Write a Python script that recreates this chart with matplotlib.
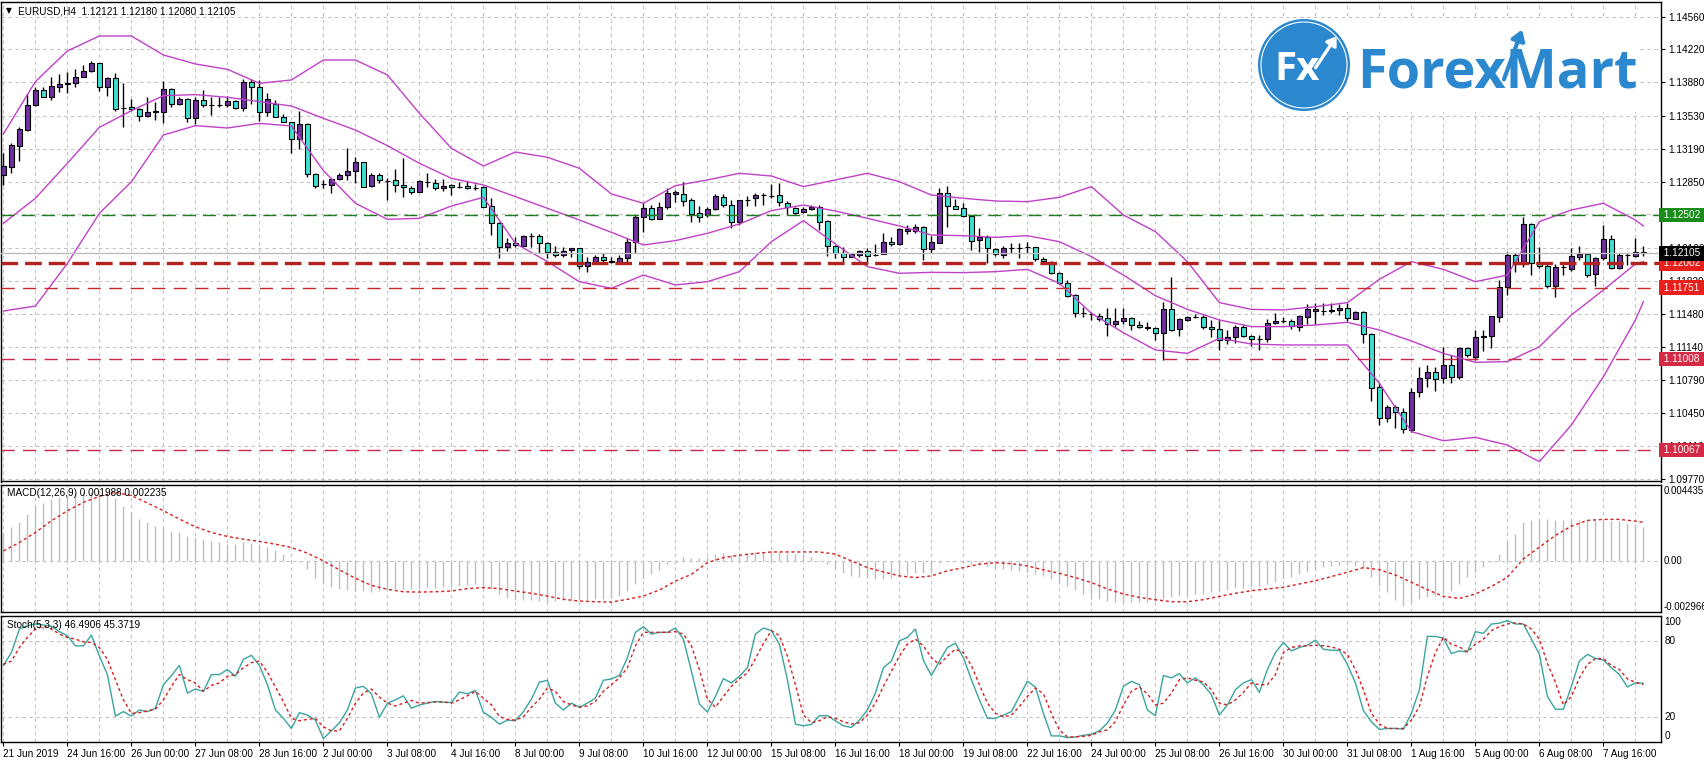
import numpy as np
import matplotlib
matplotlib.use("Agg")
import matplotlib.pyplot as plt
from matplotlib.patches import Circle, Rectangle, FancyArrowPatch
import matplotlib.transforms as mtransforms

plt.rcParams['font.family'] = ['Liberation Sans', 'DejaVu Sans']
plt.rcParams['lines.scale_dashes'] = False

# ---------------- data ----------------
symbol = "EURUSD,H4"
date_labels = ["21 Jun 2019", "24 Jun 16:00", "26 Jun 00:00", "27 Jun 08:00", "28 Jun 16:00",
               "2 Jul 00:00", "3 Jul 08:00", "4 Jul 16:00", "8 Jul 00:00", "9 Jul 08:00",
               "10 Jul 16:00", "12 Jul 00:00", "15 Jul 08:00", "16 Jul 16:00", "18 Jul 00:00",
               "19 Jul 08:00", "22 Jul 16:00", "24 Jul 00:00", "25 Jul 08:00", "26 Jul 16:00",
               "30 Jul 00:00", "31 Jul 08:00", "1 Aug 16:00", "5 Aug 00:00", "6 Aug 08:00",
               "7 Aug 16:00"]
price_ticks = [1.14560, 1.14220, 1.13880, 1.13530, 1.13190, 1.12850, 1.12510, 1.12160,
               1.11820, 1.11480, 1.11140, 1.10790, 1.10450, 1.10110, 1.09770]
hidden_tick = 1.12510          # fully covered by the 1.12502 level box in the original
level_prices = [1.12502, 1.12002, 1.11751, 1.11008, 1.10067]

open_ = [
 1.12919, 1.13005, 1.13223, 1.13385, 1.13645, 1.13800, 1.13731, 1.13835, 1.13859, 1.13869,
 1.13938, 1.13997, 1.14077, 1.13828, 1.13921, 1.13617, 1.13620, 1.13600, 1.13534, 1.13569,
 1.13569, 1.13807, 1.13651, 1.13703, 1.13506, 1.13696, 1.13641, 1.13648, 1.13648, 1.13686,
 1.13610, 1.13887, 1.13828, 1.13569, 1.13651, 1.13517, 1.13465, 1.13288, 1.13444, 1.12926,
 1.12822, 1.12815, 1.12874, 1.12919, 1.12964, 1.13050, 1.12805, 1.12919, 1.12860, 1.12867,
 1.12811, 1.12787, 1.12739, 1.12849, 1.12832, 1.12780, 1.12811, 1.12798, 1.12805, 1.12787,
 1.12791, 1.12601, 1.12424, 1.12168, 1.12210, 1.12182, 1.12286, 1.12289, 1.12210, 1.12123,
 1.12092, 1.12141, 1.12158, 1.11978, 1.12020, 1.12065, 1.12030, 1.12013, 1.12054, 1.12227,
 1.12480, 1.12573, 1.12466, 1.12590, 1.12722, 1.12722, 1.12659, 1.12521, 1.12504, 1.12563,
 1.12694, 1.12604, 1.12431, 1.12659, 1.12677, 1.12715, 1.12701, 1.12708, 1.12632, 1.12573,
 1.12531, 1.12563, 1.12583, 1.12442, 1.12182, 1.12106, 1.12065, 1.12089, 1.12134, 1.12089,
 1.12096, 1.12227, 1.12200, 1.12341, 1.12341, 1.12376, 1.12148, 1.12217, 1.12728, 1.12597,
 1.12573, 1.12490, 1.12244, 1.12279, 1.12151, 1.12092, 1.12165, 1.12165, 1.12172, 1.12172,
 1.12044, 1.12020, 1.11899, 1.11802, 1.11674, 1.11484, 1.11474, 1.11460, 1.11432, 1.11373,
 1.11401, 1.11432, 1.11359, 1.11346, 1.11328, 1.11277, 1.11525, 1.11318, 1.11415, 1.11449,
 1.11449, 1.11339, 1.11318, 1.11207, 1.11235, 1.11346, 1.11252, 1.11214, 1.11214, 1.11380,
 1.11408, 1.11404, 1.11346, 1.11449, 1.11512, 1.11512, 1.11508, 1.11519, 1.11536, 1.11425,
 1.11494, 1.11270, 1.10723, 1.10402, 1.10516, 1.10457, 1.10274, 1.10665, 1.10810, 1.10872,
 1.10810, 1.10945, 1.10827, 1.11121, 1.11028, 1.11235, 1.11249, 1.11449, 1.11754, 1.12089,
 1.11996, 1.12407, 1.12002, 1.11975, 1.11771, 1.11961, 1.11940, 1.12072, 1.12099, 1.11888,
 1.12054, 1.12255, 1.11951, 1.12085, 1.12079, 1.12121]
high = [
 1.13143, 1.13254, 1.13420, 1.13759, 1.13828, 1.13828, 1.13931, 1.13966, 1.13990, 1.14014,
 1.14059, 1.14101, 1.14084, 1.13931, 1.13980, 1.13876, 1.13703, 1.13610, 1.13731, 1.13679,
 1.13893, 1.13821, 1.13731, 1.13721, 1.13731, 1.13800, 1.13731, 1.13724, 1.13741, 1.13696,
 1.13911, 1.13911, 1.13904, 1.13766, 1.13696, 1.13548, 1.13472, 1.13582, 1.13454, 1.12936,
 1.12867, 1.12884, 1.12936, 1.13195, 1.13109, 1.13057, 1.12936, 1.12936, 1.12884, 1.12977,
 1.13091, 1.12805, 1.12867, 1.12936, 1.12874, 1.12874, 1.12822, 1.12849, 1.12860, 1.12825,
 1.12805, 1.12677, 1.12435, 1.12262, 1.12279, 1.12296, 1.12314, 1.12303, 1.12227, 1.12182,
 1.12175, 1.12158, 1.12158, 1.12072, 1.12089, 1.12113, 1.12072, 1.12089, 1.12262, 1.12504,
 1.12625, 1.12607, 1.12642, 1.12787, 1.12763, 1.12849, 1.12677, 1.12597, 1.12583, 1.12722,
 1.12722, 1.12659, 1.12659, 1.12701, 1.12735, 1.12735, 1.12825, 1.12832, 1.12652, 1.12583,
 1.12583, 1.12607, 1.12607, 1.12452, 1.12193, 1.12175, 1.12106, 1.12141, 1.12158, 1.12203,
 1.12321, 1.12279, 1.12365, 1.12403, 1.12410, 1.12390, 1.12286, 1.12780, 1.12805, 1.12666,
 1.12625, 1.12504, 1.12365, 1.12296, 1.12158, 1.12182, 1.12210, 1.12217, 1.12224, 1.12175,
 1.12072, 1.12030, 1.11916, 1.11830, 1.11684, 1.11553, 1.11501, 1.11484, 1.11536, 1.11536,
 1.11536, 1.11449, 1.11404, 1.11391, 1.11346, 1.11605, 1.11864, 1.11432, 1.11456, 1.11477,
 1.11467, 1.11415, 1.11415, 1.11311, 1.11363, 1.11363, 1.11259, 1.11259, 1.11422, 1.11491,
 1.11449, 1.11422, 1.11467, 1.11581, 1.11588, 1.11595, 1.11595, 1.11581, 1.11595, 1.11512,
 1.11512, 1.11277, 1.10758, 1.10533, 1.10533, 1.10499, 1.10706, 1.10931, 1.10948, 1.10931,
 1.11138, 1.11052, 1.11138, 1.11138, 1.11311, 1.11311, 1.11456, 1.11830, 1.12123, 1.12106,
 1.12486, 1.12417, 1.12175, 1.12002, 1.11996, 1.12020, 1.12158, 1.12182, 1.12106, 1.12072,
 1.12400, 1.12296, 1.12113, 1.12113, 1.12262, 1.12180]
low = [
 1.12815, 1.12943, 1.13067, 1.13378, 1.13634, 1.13731, 1.13696, 1.13783, 1.13772, 1.13828,
 1.13931, 1.13990, 1.13793, 1.13738, 1.13586, 1.13420, 1.13586, 1.13479, 1.13524, 1.13489,
 1.13454, 1.13620, 1.13641, 1.13472, 1.13448, 1.13620, 1.13541, 1.13627, 1.13627, 1.13607,
 1.13586, 1.13655, 1.13482, 1.13534, 1.13517, 1.13465, 1.13143, 1.13188, 1.12901, 1.12787,
 1.12780, 1.12735, 1.12867, 1.12867, 1.12839, 1.12798, 1.12798, 1.12839, 1.12659, 1.12746,
 1.12694, 1.12722, 1.12739, 1.12798, 1.12763, 1.12753, 1.12711, 1.12780, 1.12773, 1.12763,
 1.12583, 1.12296, 1.12054, 1.12134, 1.12175, 1.12182, 1.12168, 1.12106, 1.12054, 1.12065,
 1.12072, 1.12072, 1.11944, 1.11916, 1.12002, 1.12002, 1.12002, 1.12002, 1.12020, 1.12106,
 1.12331, 1.12452, 1.12466, 1.12563, 1.12642, 1.12597, 1.12435, 1.12435, 1.12486, 1.12556,
 1.12590, 1.12365, 1.12400, 1.12597, 1.12597, 1.12607, 1.12677, 1.12597, 1.12511, 1.12514,
 1.12521, 1.12556, 1.12348, 1.12079, 1.12054, 1.12009, 1.12065, 1.12065, 1.11996, 1.12079,
 1.12096, 1.12182, 1.12193, 1.12307, 1.12314, 1.12037, 1.12106, 1.12210, 1.12383, 1.12563,
 1.12480, 1.12141, 1.12123, 1.12002, 1.12079, 1.12054, 1.12106, 1.12054, 1.12113, 1.12030,
 1.12009, 1.11892, 1.11788, 1.11657, 1.11449, 1.11442, 1.11415, 1.11408, 1.11249, 1.11339,
 1.11370, 1.11311, 1.11328, 1.11311, 1.11207, 1.11000, 1.11304, 1.11249, 1.11408, 1.11439,
 1.11318, 1.11242, 1.11104, 1.11166, 1.11180, 1.11235, 1.11145, 1.11104, 1.11190, 1.11370,
 1.11380, 1.11318, 1.11304, 1.11373, 1.11373, 1.11467, 1.11491, 1.11467, 1.11408, 1.11422,
 1.11180, 1.10578, 1.10326, 1.10360, 1.10291, 1.10246, 1.10257, 1.10620, 1.10723, 1.10682,
 1.10758, 1.10765, 1.10799, 1.11028, 1.11000, 1.11097, 1.11121, 1.11397, 1.11674, 1.11916,
 1.11968, 1.11881, 1.11951, 1.11743, 1.11657, 1.11881, 1.11926, 1.12037, 1.11864, 1.11767,
 1.12037, 1.11940, 1.11940, 1.11985, 1.12065, 1.12080]
close = [
 1.13012, 1.13230, 1.13392, 1.13645, 1.13800, 1.13731, 1.13842, 1.13862, 1.13876, 1.13938,
 1.13997, 1.14084, 1.13828, 1.13921, 1.13600, 1.13617, 1.13600, 1.13534, 1.13569, 1.13579,
 1.13807, 1.13655, 1.13703, 1.13506, 1.13696, 1.13641, 1.13641, 1.13648, 1.13683, 1.13610,
 1.13887, 1.13835, 1.13569, 1.13707, 1.13517, 1.13465, 1.13288, 1.13444, 1.12926, 1.12808,
 1.12822, 1.12874, 1.12919, 1.12960, 1.13050, 1.12798, 1.12919, 1.12867, 1.12860, 1.12811,
 1.12791, 1.12739, 1.12856, 1.12849, 1.12780, 1.12808, 1.12791, 1.12798, 1.12780, 1.12787,
 1.12590, 1.12417, 1.12168, 1.12210, 1.12189, 1.12289, 1.12286, 1.12210, 1.12123, 1.12092,
 1.12134, 1.12158, 1.11975, 1.12013, 1.12065, 1.12037, 1.12013, 1.12054, 1.12227, 1.12480,
 1.12573, 1.12466, 1.12590, 1.12735, 1.12746, 1.12652, 1.12514, 1.12486, 1.12563, 1.12701,
 1.12604, 1.12431, 1.12659, 1.12659, 1.12711, 1.12715, 1.12701, 1.12639, 1.12583, 1.12528,
 1.12566, 1.12583, 1.12431, 1.12182, 1.12106, 1.12065, 1.12096, 1.12134, 1.12082, 1.12089,
 1.12227, 1.12200, 1.12355, 1.12359, 1.12376, 1.12148, 1.12220, 1.12728, 1.12597, 1.12569,
 1.12490, 1.12238, 1.12279, 1.12158, 1.12099, 1.12158, 1.12165, 1.12165, 1.12172, 1.12044,
 1.12023, 1.11899, 1.11802, 1.11664, 1.11484, 1.11484, 1.11474, 1.11429, 1.11370, 1.11404,
 1.11432, 1.11363, 1.11339, 1.11328, 1.11277, 1.11525, 1.11311, 1.11422, 1.11442, 1.11449,
 1.11339, 1.11318, 1.11207, 1.11235, 1.11346, 1.11249, 1.11214, 1.11214, 1.11380, 1.11404,
 1.11408, 1.11353, 1.11456, 1.11525, 1.11525, 1.11512, 1.11519, 1.11536, 1.11432, 1.11494,
 1.11270, 1.10706, 1.10402, 1.10516, 1.10464, 1.10281, 1.10665, 1.10810, 1.10872, 1.10806,
 1.10948, 1.10827, 1.11121, 1.11052, 1.11242, 1.11249, 1.11456, 1.11760, 1.12089, 1.11996,
 1.12407, 1.12009, 1.11978, 1.11771, 1.11961, 1.11961, 1.12079, 1.12099, 1.11881, 1.12061,
 1.12255, 1.11951, 1.12089, 1.12085, 1.12124, 1.12105]

# Bollinger bands read every 4 bars (plus the last bar)
band_bars = list(range(0, 205, 4)) + [205]
bb_upper = [
 1.13344, 1.13887, 1.14205, 1.14360, 1.14360, 1.14163, 1.14070, 1.14014, 1.13869, 1.13904,
 1.14111, 1.14111, 1.13956, 1.13558, 1.13195, 1.13012, 1.13157, 1.13102, 1.12988, 1.12722,
 1.12625, 1.12808, 1.12867, 1.12936, 1.12908, 1.12798, 1.12867, 1.12936, 1.12849, 1.12711,
 1.12677, 1.12649, 1.12642, 1.12687, 1.12798, 1.12504, 1.12331, 1.12020, 1.11595, 1.11525,
 1.11519, 1.11553, 1.11595, 1.11837, 1.12020, 1.11940, 1.11812, 1.11881, 1.12435, 1.12556,
 1.12625, 1.12452, 1.12390]
bb_middle = [
 1.12417, 1.12677, 1.13040, 1.13413, 1.13586, 1.13741, 1.13752, 1.13724, 1.13679, 1.13634,
 1.13506, 1.13385, 1.13223, 1.13040, 1.12884, 1.12815, 1.12694, 1.12573, 1.12452, 1.12324,
 1.12193, 1.12238, 1.12314, 1.12410, 1.12549, 1.12607, 1.12545, 1.12469, 1.12390, 1.12296,
 1.12289, 1.12272, 1.12289, 1.12227, 1.12072, 1.11881, 1.11667, 1.11525, 1.11415, 1.11346,
 1.11346, 1.11363, 1.11391, 1.11311, 1.11197, 1.11069, 1.10976, 1.10983, 1.11138, 1.11467,
 1.11726, 1.11996, 1.12020]
bb_lower = [
 1.11508, 1.11560, 1.12002, 1.12521, 1.12849, 1.13333, 1.13430, 1.13406, 1.13454, 1.13427,
 1.12964, 1.12625, 1.12459, 1.12469, 1.12597, 1.12687, 1.12210, 1.12020, 1.11812, 1.11743,
 1.11881, 1.11778, 1.11812, 1.11916, 1.12227, 1.12445, 1.12203, 1.11968, 1.11899, 1.11909,
 1.11906, 1.11916, 1.11940, 1.11795, 1.11484, 1.11283, 1.11104, 1.11069, 1.11225, 1.11166,
 1.11156, 1.11156, 1.11156, 1.10758, 1.10257, 1.10163, 1.10198, 1.10118, 1.09946, 1.10326,
 1.10827, 1.11415, 1.11605]

# MACD(12,26,9) main histogram, one value per bar
macd_main = [
 0.00155, 0.00194, 0.00227, 0.00272, 0.00321, 0.00336, 0.00359, 0.00369, 0.00383, 0.00392,
 0.00398, 0.00402, 0.00398, 0.00394, 0.00363, 0.00321, 0.00286, 0.00243, 0.00227, 0.00204,
 0.00194, 0.00175, 0.00165, 0.00146, 0.00136, 0.00126, 0.00113, 0.00107, 0.00101, 0.00097,
 0.00107, 0.00103, 0.00097, 0.00082, 0.00064, 0.00039, 0.00004, -0.00004, -0.00049, -0.00097,
 -0.00126, -0.00150, -0.00161, -0.00169, -0.00175, -0.00177, -0.00181, -0.00177, -0.00169, -0.00165,
 -0.00161, -0.00161, -0.00155, -0.00150, -0.00155, -0.00150, -0.00150, -0.00146, -0.00142, -0.00136,
 -0.00150, -0.00165, -0.00194, -0.00214, -0.00227, -0.00227, -0.00229, -0.00233, -0.00239, -0.00233,
 -0.00227, -0.00223, -0.00227, -0.00227, -0.00223, -0.00223, -0.00214, -0.00204, -0.00175, -0.00136,
 -0.00107, -0.00078, -0.00052, -0.00019, -0.00010, 0.00025, 0.00019, 0.00014, 0.00025, 0.00039,
 0.00043, 0.00033, 0.00039, 0.00043, 0.00049, 0.00052, 0.00058, 0.00052, 0.00045, 0.00039,
 0.00033, 0.00025, 0.00004, -0.00019, -0.00039, -0.00072, -0.00087, -0.00091, -0.00097, -0.00107,
 -0.00103, -0.00097, -0.00087, -0.00084, -0.00072, -0.00072, -0.00068, -0.00010, 0.00002, -0.00002,
 -0.00010, -0.00019, -0.00025, -0.00029, -0.00039, -0.00045, -0.00052, -0.00058, -0.00064, -0.00078,
 -0.00087, -0.00107, -0.00126, -0.00146, -0.00169, -0.00194, -0.00220, -0.00223, -0.00233, -0.00237,
 -0.00241, -0.00241, -0.00237, -0.00237, -0.00231, -0.00222, -0.00212, -0.00206, -0.00198, -0.00192,
 -0.00192, -0.00183, -0.00173, -0.00167, -0.00159, -0.00159, -0.00153, -0.00148, -0.00134, -0.00120,
 -0.00105, -0.00095, -0.00076, -0.00062, -0.00051, -0.00037, -0.00027, -0.00023, -0.00023, -0.00027,
 -0.00043, -0.00095, -0.00144, -0.00183, -0.00225, -0.00260, -0.00237, -0.00222, -0.00212, -0.00202,
 -0.00192, -0.00173, -0.00134, -0.00095, -0.00066, -0.00037, -0.00008, 0.00041, 0.00109, 0.00157,
 0.00225, 0.00235, 0.00245, 0.00241, 0.00235, 0.00239, 0.00241, 0.00235, 0.00239, 0.00235,
 0.00235, 0.00229, 0.00229, 0.00222, 0.00216, 0.001988]
# MACD signal line read every 2 bars (plus the last bar)
signal_bars = list(range(0, 205, 2)) + [205]
macd_signal = [
 0.00058, 0.00107, 0.00165, 0.00233, 0.00291, 0.00340, 0.00375, 0.00398, 0.00379, 0.00336,
 0.00291, 0.00243, 0.00198, 0.00165, 0.00142, 0.00126, 0.00113, 0.00097, 0.00078, 0.00045,
 0.00000, -0.00052, -0.00101, -0.00142, -0.00165, -0.00179, -0.00181, -0.00179, -0.00175, -0.00161,
 -0.00155, -0.00161, -0.00175, -0.00188, -0.00204, -0.00223, -0.00233, -0.00237, -0.00239, -0.00223,
 -0.00204, -0.00169, -0.00117, -0.00078, -0.00010, 0.00019, 0.00033, 0.00043, 0.00052, 0.00052,
 0.00052, 0.00052, 0.00039, 0.00000, -0.00039, -0.00064, -0.00087, -0.00097, -0.00087, -0.00058,
 -0.00039, -0.00019, -0.00010, -0.00016, -0.00029, -0.00052, -0.00072, -0.00097, -0.00126, -0.00163,
 -0.00192, -0.00212, -0.00225, -0.00237, -0.00237, -0.00225, -0.00206, -0.00188, -0.00173, -0.00163,
 -0.00153, -0.00134, -0.00115, -0.00091, -0.00066, -0.00039, -0.00051, -0.00082, -0.00124, -0.00167,
 -0.00206, -0.00218, -0.00192, -0.00148, -0.00095, 0.00012, 0.00080, 0.00148, 0.00202, 0.00235,
 0.00241, 0.00241, 0.00231, 0.002235]

# Stochastic(5,3,3), one value per bar
stoch_main = [
 60.5, 70.7, 89.3, 92.0, 93.3, 92.5, 91.5, 87.2, 84.0, 76.0,
 76.0, 84.5, 68.0, 53.3, 20.5, 24.0, 20.5, 25.3, 24.0, 26.7,
 45.3, 52.5, 60.5, 38.7, 41.9, 40.0, 53.3, 53.3, 57.3, 52.0,
 65.3, 68.5, 60.5, 45.3, 25.3, 18.7, 10.7, 23.2, 21.3, 17.3,
 2.7, 8.8, 15.2, 25.3, 42.7, 44.0, 38.1, 19.5, 30.7, 33.3,
 36.5, 26.7, 29.3, 30.7, 32.0, 31.5, 31.2, 39.5, 38.1, 40.8,
 23.5, 19.5, 14.1, 17.3, 16.8, 24.0, 33.9, 47.2, 48.8, 30.7,
 25.3, 30.7, 27.5, 30.7, 34.7, 48.8, 49.9, 52.5, 66.7, 86.7,
 91.2, 85.3, 86.7, 86.7, 90.1, 81.3, 56.0, 30.1, 23.7, 36.0,
 50.1, 46.7, 52.0, 58.7, 85.3, 90.1, 88.0, 77.3, 49.3, 14.1,
 12.8, 13.9, 20.8, 20.8, 16.8, 12.8, 11.5, 17.3, 25.3, 38.7,
 58.7, 64.0, 80.0, 82.7, 89.3, 64.5, 52.5, 64.0, 74.7, 78.1,
 66.7, 49.3, 33.3, 18.7, 18.7, 21.3, 24.0, 36.0, 48.0, 43.5,
 22.7, 4.8, 4.8, 3.5, 4.0, 5.3, 6.1, 8.8, 15.0, 25.3,
 44.0, 48.0, 45.3, 25.3, 20.8, 52.5, 50.7, 54.1, 46.7, 50.7,
 45.3, 37.3, 21.3, 29.3, 41.3, 46.7, 49.3, 39.2, 57.3, 70.7,
 78.7, 72.0, 74.7, 76.5, 80.5, 73.3, 72.5, 72.5, 61.3, 46.7,
 24.8, 16.0, 9.9, 10.7, 10.7, 10.1, 22.7, 41.3, 83.5, 83.5,
 82.1, 69.9, 72.0, 71.2, 87.2, 85.9, 93.3, 93.9, 96.0, 93.3,
 93.3, 81.3, 69.3, 36.0, 25.9, 25.9, 44.0, 64.0, 69.3, 66.1,
 64.8, 58.7, 53.3, 43.5, 46.7, 46.4906]
stoch_signal = [
 61.3, 64.0, 74.7, 82.7, 89.3, 91.5, 89.3, 85.3, 82.7, 81.3,
 79.2, 78.7, 74.7, 65.3, 49.3, 33.3, 22.7, 23.2, 24.5, 25.9,
 33.3, 44.0, 53.3, 49.3, 46.7, 40.0, 44.8, 46.7, 52.0, 53.3,
 58.7, 62.7, 64.0, 55.2, 43.5, 32.0, 18.7, 16.8, 17.9, 18.7,
 12.0, 8.8, 8.8, 18.7, 30.7, 38.7, 41.9, 35.5, 30.7, 28.5,
 30.7, 32.8, 30.7, 31.2, 31.7, 31.7, 30.7, 33.3, 36.5, 40.0,
 34.7, 29.3, 20.0, 17.9, 17.3, 20.0, 27.5, 33.9, 42.7, 40.0,
 32.0, 29.3, 27.5, 28.5, 32.0, 40.0, 45.3, 50.7, 58.7, 76.0,
 86.7, 86.7, 86.7, 86.7, 87.2, 85.3, 76.0, 57.3, 33.9, 27.5,
 36.0, 44.0, 49.9, 54.7, 65.9, 77.9, 88.0, 84.0, 68.0, 45.3,
 21.3, 15.2, 16.8, 20.0, 18.7, 16.0, 14.1, 15.2, 21.3, 30.7,
 44.0, 56.0, 68.0, 77.3, 81.3, 76.0, 66.7, 61.3, 68.0, 73.3,
 70.7, 60.5, 45.3, 30.7, 22.7, 20.0, 21.3, 28.0, 36.0, 42.7,
 38.1, 22.7, 9.3, 4.0, 4.0, 4.5, 5.3, 8.0, 9.6, 16.0,
 29.3, 40.0, 43.5, 38.1, 29.3, 30.7, 38.7, 49.3, 50.7, 48.8,
 47.5, 41.3, 30.7, 29.3, 33.3, 39.2, 46.7, 45.3, 45.3, 53.3,
 70.7, 74.7, 76.0, 76.0, 76.5, 76.0, 75.2, 73.3, 69.3, 57.3,
 41.3, 22.7, 14.1, 10.7, 10.7, 10.7, 17.3, 28.0, 52.0, 70.7,
 82.7, 77.3, 75.2, 71.2, 77.3, 81.3, 88.0, 91.2, 93.3, 94.1,
 93.3, 89.3, 81.3, 62.1, 47.2, 29.3, 36.0, 50.7, 61.3, 65.9,
 65.9, 60.5, 57.3, 49.9, 47.2, 45.3719]

macd_range = (-0.002966, 0.004435)

# ---------------- styling ----------------
W, H = 1704, 764
BULL = '#7030A0'
BEAR = '#40E0D0'
BAND = '#C040C8'
GRID = '#C4C4C4'
STOCH = '#3AA59F'
SIGRED = '#D42020'
FS = 7.2

fig = plt.figure(figsize=(W / 100, H / 100), dpi=100)
fig.patch.set_facecolor('white')


def rect(x0, y0, x1, y1):
    return [x0 / W, 1 - y1 / H, (x1 - x0) / W, (y1 - y0) / H]


ax = fig.add_axes(rect(1, 1.5, 1661, 481.5))
axm = fig.add_axes(rect(1, 484.5, 1661, 612))
axs = fig.add_axes(rect(1, 615.5, 1661, 742))

o = np.array(open_)
h = np.array(high)
l = np.array(low)
c = np.array(close)
n = len(c)
bars = np.arange(n)
XL = (-0.3, 207.2)

for a in (ax, axm, axs):
    a.set_xlim(*XL)
    a.set_facecolor('white')
    for s in a.spines.values():
        s.set_color('black')
        s.set_linewidth(1.0)
    for g in range(0, 208, 4):
        a.axvline(g, color=GRID, lw=0.8, dashes=(2.5, 2.5), zorder=0)

# ---- main price panel ----
ax.set_ylim(1.097401, 1.147176)
for p in price_ticks:
    ax.axhline(p, color=GRID, lw=0.8, dashes=(2.5, 2.5), zorder=0)

up = c >= o
bottom = np.minimum(o, c)
height = np.abs(c - o)
ax.vlines(bars, l, h, colors='black', lw=1.0, zorder=3)
ax.bar(bars[up], height[up], bottom=bottom[up], width=0.56, color=BULL,
       edgecolor='black', linewidth=0.8, zorder=4)
ax.bar(bars[~up], height[~up], bottom=bottom[~up], width=0.56, color=BEAR,
       edgecolor='black', linewidth=0.8, zorder=4)

ax.plot(band_bars, bb_upper, color=BAND, lw=1.0, zorder=5)
ax.plot(band_bars, bb_middle, color=BAND, lw=1.0, zorder=5)
ax.plot(band_bars, bb_lower, color=BAND, lw=1.0, zorder=5)

level_styles = [
    dict(color='#1E7B1E', lw=1.0, dashes=(9.5, 5.0), box='#1A8C1A'),
    dict(color='#B2221E', lw=2.4, dashes=(12.0, 5.0), box='#E8201C'),
    dict(color='#C62828', lw=1.0, dashes=(9.5, 6.0), box='#E8201C'),
    dict(color='#C8284A', lw=1.0, dashes=(9.5, 6.0), box='#D42A46'),
    dict(color='#C8284A', lw=1.0, dashes=(9.5, 6.0), box='#D42A46'),
]
bid = c[-1]
ax.axhline(bid, color='#BDBDBD', lw=1.0, zorder=5)
for p, st in zip(level_prices, level_styles):
    ax.axhline(p, color=st['color'], lw=st['lw'], dashes=st['dashes'], zorder=6)

ax.yaxis.tick_right()
ax.set_yticks(price_ticks)
ax.set_yticklabels(["" if p == hidden_tick else f"{p:.5f}" for p in price_ticks])
ax.tick_params(axis='y', labelsize=FS, length=3, width=0.8, pad=2, colors='black')
ax.set_xticks([])

blend = mtransforms.blended_transform_factory(ax.transAxes, ax.transData)
for p, st in zip(level_prices, level_styles):
    ax.text(1.0, p, f" {p:.5f}  ", transform=blend, ha='left', va='center',
            fontsize=FS, color='white', zorder=20, clip_on=False,
            bbox=dict(boxstyle='square,pad=0.22', fc=st['box'], ec='none'))
ax.text(1.0, bid, f" {bid:.5f}  ", transform=blend, ha='left', va='center',
        fontsize=FS, color='white', zorder=20, clip_on=False,
        bbox=dict(boxstyle='square,pad=0.22', fc='black', ec='none'))

fig.text(6 / W, 1 - 11 / H, '\u25bc', fontsize=5.5, va='center', ha='left',
         family=['DejaVu Sans'])
fig.text(18 / W, 1 - 11 / H,
         f"{symbol}  {o[-1]:.5f} {h[-1]:.5f} {l[-1]:.5f} {c[-1]:.5f}",
         fontsize=FS, va='center', ha='left')

# ---- MACD panel ----
axm.set_ylim(*macd_range)
axm.axhline(0, color=GRID, lw=0.8, dashes=(2.5, 2.5), zorder=0)
axm.vlines(bars, 0, macd_main, colors='#BDBDBD', lw=1.0, zorder=2)
axm.plot(signal_bars, macd_signal, color=SIGRED, lw=1.0, dashes=(2.2, 2.0), zorder=3)
axm.set_xticks([])
axm.set_yticks([])
mb = mtransforms.blended_transform_factory(axm.transAxes, axm.transData)
for val, txt in [(macd_range[1] - 0.00035, f"{macd_range[1]:.6f}"), (0.0, "0.00"),
                 (macd_range[0] + 0.0003, f"{macd_range[0]:.6f}")]:
    axm.annotate(txt, xy=(1.0, val), xycoords=mb, xytext=(2.0, 0),
                 textcoords='offset points', ha='left', va='center',
                 fontsize=6.9, annotation_clip=False)
axm.text(6 / 1660, 0.93, f"MACD(12,26,9) {macd_main[-1]:.6f} {macd_signal[-1]:.6f}",
         transform=axm.transAxes, fontsize=FS, va='center', ha='left')

# ---- Stochastic panel ----
axs.set_ylim(0, 100)
for lv in (20, 80):
    axs.axhline(lv, color=GRID, lw=0.8, dashes=(2.5, 2.5), zorder=0)
axs.plot(bars, stoch_main, color=STOCH, lw=1.0, zorder=3)
axs.plot(bars, stoch_signal, color=SIGRED, lw=1.0, dashes=(2.2, 2.0), zorder=3)
axs.set_yticks([])
sb = mtransforms.blended_transform_factory(axs.transAxes, axs.transData)
for val, txt in [(95.0, "100"), (80, "80"), (20, "20"), (5, "0")]:
    axs.annotate(txt, xy=(1.0, val), xycoords=sb, xytext=(2.5, 0),
                 textcoords='offset points', ha='left', va='center',
                 fontsize=FS, annotation_clip=False)
axs.text(6 / 1660, 0.925, f"Stoch(5,3,3) {stoch_main[-1]:.4f} {stoch_signal[-1]:.4f}",
         transform=axs.transAxes, fontsize=FS, va='center', ha='left')
axs.set_xticks(np.arange(0, 8 * len(date_labels), 8))
axs.set_xticklabels(date_labels, fontsize=FS)
for t in axs.get_xticklabels():
    t.set_ha('left')
axs.tick_params(axis='x', length=3, width=0.8, pad=2)

# ---- ForexMart logo ----
fig.add_artist(Rectangle((1256 / W, 1 - 112 / H), (1640 - 1256) / W, (112 - 18) / H,
                         transform=fig.transFigure, fc='white', ec='none', zorder=5))
LOGO = '#2B88CF'
cx, cy, r = 1304, 65, 46
fig.add_artist(Circle((cx / 100, (H - cy) / 100), r / 100, transform=fig.dpi_scale_trans,
                      fc=LOGO, ec='none', zorder=6))
fig.add_artist(Circle((cx / 100, (H - cy) / 100), (r - 3) / 100, transform=fig.dpi_scale_trans,
                      fc='none', ec='white', lw=0.8, zorder=7))
fig.text(1297 / W, 1 - 70 / H, 'Fx', fontsize=29, fontweight='bold', color='white',
         ha='center', va='center', family=['Open Sans', 'DejaVu Sans'], zorder=8)
fig.add_artist(FancyArrowPatch((1314 / 100, (H - 70) / 100), (1338 / 100, (H - 34) / 100),
                               transform=fig.dpi_scale_trans,
                               arrowstyle='-|>,head_length=5,head_width=3.5',
                               color='white', lw=2.4, zorder=8))
fig.text(1357 / W, 1 - 88 / H, 'ForexMart', fontsize=39, fontweight='bold', color=LOGO,
         ha='left', va='baseline', family=['Open Sans', 'DejaVu Sans'], zorder=8)
fig.add_artist(FancyArrowPatch((1503 / 100, (H - 82) / 100), (1523 / 100, (H - 27) / 100),
                               transform=fig.dpi_scale_trans,
                               arrowstyle='-|>,head_length=6,head_width=4',
                               color=LOGO, lw=3.0, zorder=9))

fig.savefig('out.png', dpi=100, facecolor='white')
